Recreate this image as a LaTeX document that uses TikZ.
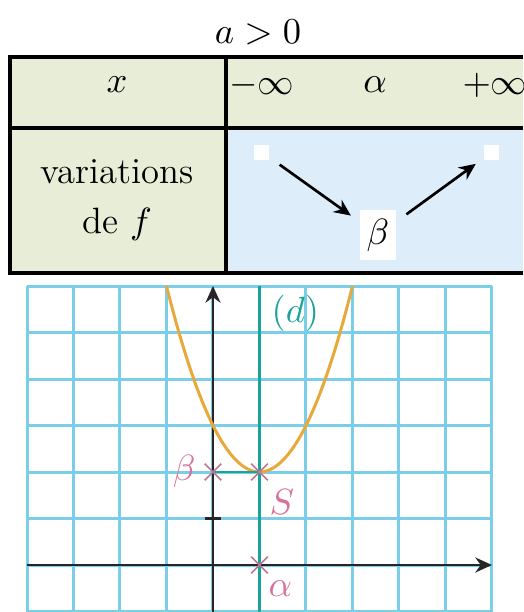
\documentclass[tikz,border=0pt]{standalone}
\usepackage{amsmath,amssymb}
\usepackage{xcolor}
\usepackage{tikz}
\usetikzlibrary{arrows.meta,positioning,shapes.misc}

\definecolor{headfill}{HTML}{E8EDD8}
\definecolor{varfill}{HTML}{DDEEFA}
\definecolor{gridblue}{HTML}{79CFEA}
\definecolor{dteal}{HTML}{1BA39A}
\definecolor{curveorange}{HTML}{E8A83C}
\definecolor{markpink}{HTML}{D7739A}

\begin{document}
\begin{tikzpicture}[x=0.3pt,y=-0.3pt,font=\fontsize{11}{13}\selectfont]
  \tikzset{cellline/.style={draw=black,line width=1pt},
    txt/.style={inner sep=0pt},
    sqmark/.style={fill=white,minimum size=4.5pt,inner sep=0pt},
    varrow/.style={-{Stealth[length=5pt,width=4.5pt]},line width=0.8pt,shorten <=3.5pt,shorten >=3pt},
    gridline/.style={draw=gridblue,line width=0.9pt},
    axisline/.style={draw=black!85,line width=0.8pt,-{Stealth[length=5pt,width=4.5pt]}},
    crossmark/.style={cross out,draw=markpink!70!gray,line width=0.5pt,minimum size=4.5pt,inner sep=0pt},
    ptlabel/.style={text=markpink,inner sep=0pt}}
  \path[use as bounding box] (0,0) rectangle (523,612);
  \begin{scope}
    \clip (0,0) rectangle (523,612);
    % table of variations
    \fill[headfill] (10,57) rectangle (540,128);
    \fill[headfill] (10,128) rectangle (226,273);
    \fill[varfill] (226,128) rectangle (540,273);
    \draw[cellline] (10,57) rectangle (540,273);
    \draw[cellline] (10,128) -- (540,128);
    \draw[cellline] (226,57) -- (226,273);
  \end{scope}
  \node[txt] (cond) at (258,32) {$a>0$};
  \node[txt] (xhead) at (117,85) {$x$};
  \node[txt] (minf) at (262,85) {$-\infty$};
  \node[txt] (alph) at (375,85) {$\alpha$};
  \node[txt] (pinf) at (495,85) {$+\infty$};
  \node[txt,align=center] (varhead) at (117,200) {variations\\[2pt]de $f$};
  \node[sqmark] (topl) at (262,152) {};
  \node[sqmark] (topr) at (492,152) {};
  \node[fill=white,minimum width=11pt,minimum height=15pt,inner sep=0pt] (bmin) at (378,235) {$\beta$};
  \draw[varrow] (topl) -- (bmin);
  \draw[varrow] (bmin) -- (topr);
  % graph
  \begin{scope}[shift={(213,565)},x=13.95pt,y=13.95pt]
    \draw[gridline,step={(1,1)}] (-4,-1) grid (6,6);
    \coordinate (xl) at (-4,0);
    \coordinate (xr) at (6,0);
    \coordinate (yb) at (0,-1);
    \coordinate (yt) at (0,6);
    \draw[dteal,line width=0.9pt] (1,-1) -- (1,6);
    \draw[axisline] (xl) -- (xr);
    \draw[axisline] (yb) -- (yt);
    \draw[black!85,line width=0.8pt] (-0.18,1) -- (0.18,1);
    \draw[curveorange,line width=0.9pt,domain=-1:3,samples=80] plot (\x,{(\x-1)^2+2});
    \draw[dteal,line width=0.8pt] (0,2) -- (1,2);
    \node[crossmark] (pb) at (0,2) {};
    \node[crossmark] (ps) at (1,2) {};
    \node[crossmark] (pa) at (1,0) {};
    \node[ptlabel] (lb) at (-0.62,2.02) {$\beta$};
    \node[ptlabel] (ls) at (1.48,1.35) {$S$};
    \node[ptlabel] (la) at (1.45,-0.5) {$\alpha$};
    \node[text=dteal,inner sep=0pt] (ld) at (1.77,5.42) {$(d)$};
  \end{scope}
\end{tikzpicture}
\end{document}
